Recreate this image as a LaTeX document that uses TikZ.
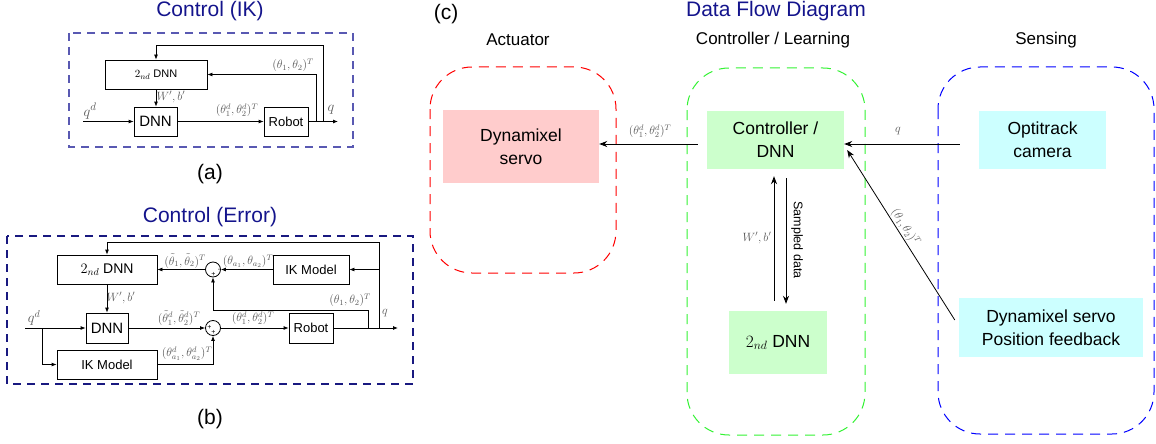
\documentclass[tikz,border=0pt]{standalone}
\usepackage{fontspec}
\setmainfont{Liberation Sans}
\usetikzlibrary{arrows.meta,calc}
\definecolor{navyt}{rgb}{0.08,0.08,0.55}
\definecolor{boxa}{rgb}{0.35,0.35,0.7}
\definecolor{boxb}{rgb}{0.1,0.1,0.5}
\definecolor{pinkf}{HTML}{FFCCCC}
\definecolor{greenf}{HTML}{CCFFCC}
\definecolor{cyanf}{HTML}{CCFFFF}
\definecolor{greend}{rgb}{0.2,0.95,0.2}
\definecolor{lbl}{gray}{0.35}
\newcommand\fsz[2]{\fontsize{#1}{#2}\selectfont}
\tikzset{
  blk/.style={draw, line width=0.8pt, inner sep=0pt},
  arr/.style={-{Latex[length=5pt,width=4pt]}, line width=0.8pt},
  sumn/.style={circle, draw, line width=0.8pt, minimum size=15pt, inner sep=0pt},
  sgn/.style={inner sep=0pt, font=\fsz{7}{8}},
  mlab/.style={text=lbl, inner sep=1pt, font=\fsz{11.5}{13}},
  ttl/.style={font=\fsz{21}{25}, text=navyt, anchor=base},
  capt/.style={font=\fsz{21}{25}, anchor=base},
  hdr/.style={font=\fsz{17}{20}},
  cbox/.style={inner sep=0pt, align=center, font=\fsz{17.5}{23}},
  arrc/.style={-{Stealth[length=8pt,width=6pt]}, line width=0.8pt},
  region/.style={dash pattern=on 10pt off 7pt, line width=1pt, rounded corners=42pt}
}
\begin{document}
\begin{tikzpicture}[x=1pt,y=-1pt]
\useasboundingbox (0,0) rectangle (1156,444);

% ---------------- (a) ----------------
\node[ttl] (ta) at (210,17) {Control (IK)};
\draw[boxa, dash pattern=on 8pt off 6pt, line width=1.1pt] (69,33) rectangle (353,147);
\node[blk, minimum width=102pt, minimum height=29pt, font=\fsz{11}{13}] (dnn2a) at (156,74.5) {$2_{nd}$ DNN};
\node[blk, minimum width=43pt, minimum height=29pt, font=\fsz{15}{18}] (dnna) at (155.5,121.5) {DNN};
\node[blk, minimum width=44pt, minimum height=29pt, font=\fsz{13}{15}] (roba) at (286,121.5) {Robot};
\coordinate (ina) at (83,121.5);
\coordinate (outa) at (338,121.5);
\coordinate (fa1) at (316,121.5);
\coordinate (fa2) at (323,121.5);
\coordinate (topa) at (323,45);
\draw[arr] (ina) -- (dnna);
\draw[arr] (dnna) -- (roba);
\draw[arr] (roba) -- (outa);
\draw[arr] (fa2) -- (topa) -| (dnn2a.north);
\draw[arr] (fa1) |- (dnn2a.east);
\draw[arr] (dnn2a.south) -- (dnn2a.south |- dnna.north);
\node[mlab] (la1) at (237,110) {$(\theta_1^d,\theta_2^d)^T$};
\node[mlab] (la2) at (293,65) {$(\theta_1,\theta_2)^T$};
\node[mlab, font=\fsz{12}{14}] (la3) at (171,97) {$W',b'$};
\node[mlab, font=\fsz{15}{17}] (la4) at (90,111) {$q^d$};
\node[mlab, font=\fsz{14}{16}] (la5) at (331,110) {$q$};
\node[capt] (ca) at (210,179) {(a)};

% ---------------- (b) ----------------
\node[ttl] (tb) at (210,222) {Control (Error)};
\draw[boxb, dash pattern=on 8pt off 6pt, line width=1.1pt] (7,236) rectangle (413,384);
\node[blk, minimum width=100pt, minimum height=29pt, font=\fsz{14}{16}] (dnn2b) at (107,269.5) {$2_{nd}$ DNN};
\node[blk, minimum width=76pt, minimum height=29pt, font=\fsz{13}{15}] (ik1) at (311,269.5) {IK Model};
\node[blk, minimum width=42pt, minimum height=30pt, font=\fsz{15}{18}] (dnnb) at (107,328) {DNN};
\node[blk, minimum width=44pt, minimum height=30pt, font=\fsz{13}{15}] (robb) at (311,328) {Robot};
\node[blk, minimum width=100pt, minimum height=29pt, font=\fsz{13}{15}] (ik2) at (107,364.5) {IK Model};
\node[sumn] (s1) at (213,269.5) {};
\node[sumn] (s2) at (213,328) {};
\node[sgn] at (219,270.5) {-};
\node[sgn] at (213.5,274.5) {+};
\node[sgn] at (209.5,327) {+};
\node[sgn] at (213.5,332.5) {+};
\coordinate (inb) at (25,328);
\coordinate (bb0) at (42,328);
\coordinate (outb) at (398,328);
\coordinate (bb1) at (368,328);
\coordinate (bb2) at (379,328);
\coordinate (bb1t) at (368,310);
\coordinate (bb2j) at (379,269.5);
\coordinate (bb2t) at (379,242);
\draw[arr] (inb) -- (dnnb);
\draw[arr] (bb0) |- (ik2.west);
\draw[arr] (dnnb) -- (s2);
\draw[arr] (ik2.east) -| (s2.south);
\draw[arr] (s2) -- (robb);
\draw[arr] (robb) -- (outb);
\draw[arr] (bb1) -- (bb1t) -| (s1.south);
\draw[arr] (bb2) -- (bb2t) -| (dnn2b.north);
\draw[arr] (bb2j) -- (ik1.east);
\draw[arr] (ik1) -- (s1);
\draw[arr] (s1) -- (dnn2b);
\draw[arr] (dnn2b) -- (dnnb);
\node[mlab, font=\fsz{14}{16}] (lb1) at (34,318) {$q^d$};
\node[mlab] (lb2) at (179,318) {$(\tilde\theta_1^d,\tilde\theta_2^d)^T$};
\node[mlab] (lb3) at (187,354) {$(\theta_{a_1}^d,\theta_{a_2}^d)^T$};
\node[mlab] (lb4) at (253,318) {$(\theta_1^d,\theta_2^d)^T$};
\node[mlab, font=\fsz{13}{15}] (lb5) at (385,313) {$q$};
\node[mlab] (lb6) at (350,300) {$(\theta_1,\theta_2)^T$};
\node[mlab] (lb7) at (248,261) {$(\theta_{a_1},\theta_{a_2})^T$};
\node[mlab] (lb8) at (185,261) {$(\tilde\theta_1,\tilde\theta_2)^T$};
\node[mlab] (lb9) at (121,298) {$W',b'$};
\node[capt] (cb) at (210,424) {(b)};

% ---------------- (c) ----------------
\node[capt] (cc) at (446,20) {(c)};
\node[ttl] (tc) at (776,17) {Data Flow Diagram};
\node[hdr] (h1) at (518,40) {Actuator};
\node[hdr] (h2) at (773,40) {Controller / Learning};
\node[hdr] (h3) at (1046,40) {Sensing};
\draw[region, red] (430,67) rectangle (616,273);
\draw[region, greend] (687,68) rectangle (865,435);
\draw[region, blue] (938,67) rectangle (1154,434);
\node[cbox, fill=pinkf, minimum width=156pt, minimum height=73pt] (dyn) at (521,146.5) {Dynamixel\\servo};
\node[cbox, fill=greenf, minimum width=137pt, minimum height=58pt] (ctrl) at (775.5,140) {Controller /\\DNN};
\node[cbox, fill=cyanf, minimum width=127pt, minimum height=58pt] (opti) at (1042.5,140) {Optitrack\\camera};
\node[cbox, fill=greenf, minimum width=98pt, minimum height=63pt] (dnn2c) at (778,342.5) {$2_{nd}$ DNN};
\node[cbox, fill=cyanf, minimum width=184pt, minimum height=59pt] (fb) at (1051,327.5) {Dynamixel servo\\Position feedback};
\draw[arrc, shorten <=9pt] ([yshift=-4pt]ctrl.west) -- ([yshift=-4pt]ctrl.west -| dyn.east);
\draw[arrc, shorten <=19pt] ([yshift=-4pt]opti.west) -- ([yshift=-4pt]opti.west -| ctrl.east);
\draw[arrc] ([shift={(-4pt,7.5pt)}]fb.west) -- node[mlab, sloped, above, pos=0.52]{$(\theta_1,\theta_2)^T$} ([shift={(3pt,-10pt)}]ctrl.east);
\draw[arrc, shorten <=10pt, shorten >=7pt] ([xshift=-4pt]dnn2c.north) -- ([xshift=-4pt]dnn2c.north |- ctrl.south);
\draw[arrc, shorten <=9pt, shorten >=7pt] ([xshift=8pt]dnn2c.north |- ctrl.south) -- ([xshift=8pt]dnn2c.north);
\node[mlab] (lc1) at (650,131) {$(\theta_1^d,\theta_2^d)^T$};
\node[mlab] (lc2) at (898,131) {$q$};
\node[mlab] (lc3) at (757,238) {$W',b'$};
\node[rotate=-90, font=\fsz{12.5}{14}] (lc4) at (797,240) {Sampled data};
\end{tikzpicture}
\end{document}
